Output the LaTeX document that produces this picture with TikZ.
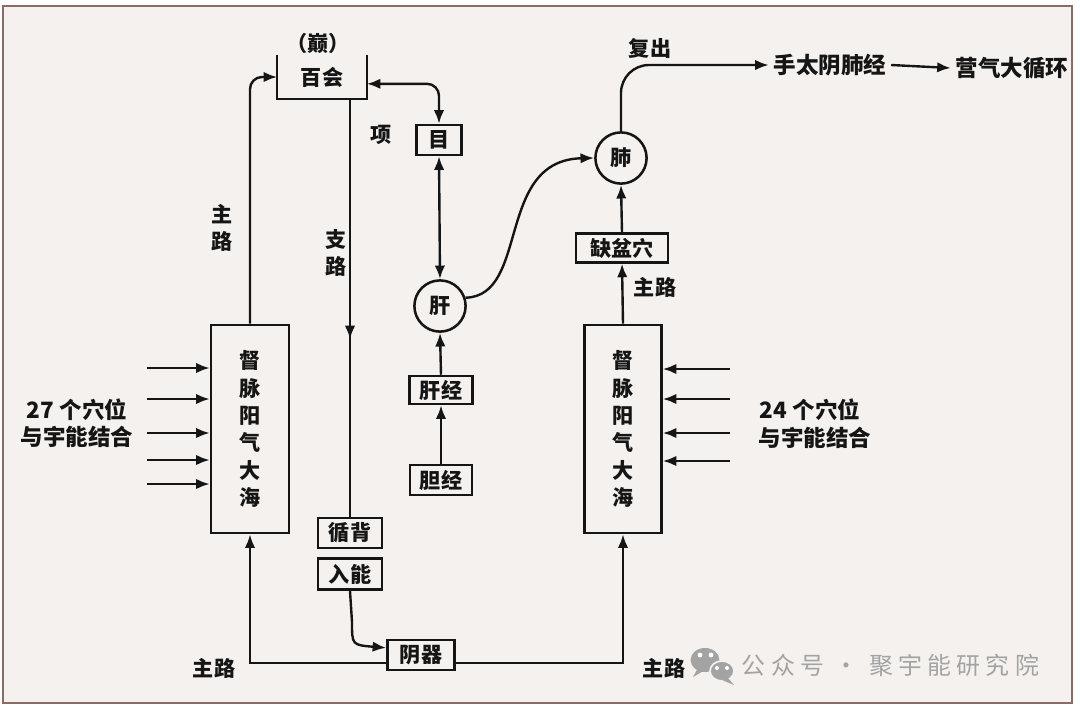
\documentclass[tikz,border=0pt]{standalone}
\usepackage{fontspec}
\setmainfont{Noto Sans CJK SC}
\newfontfamily\wmfont[LetterSpace=22]{Noto Sans CJK SC}
\usetikzlibrary{arrows.meta,decorations.markings}
\definecolor{paper}{HTML}{F4F1EE}
\definecolor{framecol}{HTML}{8C6B62}
\definecolor{ink}{HTML}{151515}
\definecolor{wmgray}{HTML}{A3A3A3}
\begin{document}
\begin{tikzpicture}[x=0.025cm,y=-0.025cm,
  every node/.style={font=\fontsize{15}{18}\selectfont\bfseries, text=ink},
  tip/.style={Latex[length=3.4mm,width=2.6mm]},
  conn/.style={draw=ink, line width=1.7pt, -{Latex[length=3.4mm,width=2.6mm]}},
  dconn/.style={draw=ink, line width=1.7pt, {Latex[length=3.4mm,width=2.6mm]}-{Latex[length=3.4mm,width=2.6mm]}},
  plain/.style={draw=ink, line width=1.7pt},
  sbox/.style={draw=ink, line width=1.8pt, inner sep=0pt, minimum height=0.75cm},
  bigbox/.style={draw=ink, line width=1.8pt, inner sep=0pt, minimum width=1.95cm, minimum height=5.2cm, align=center, font=\fontsize{15}{19.4}\selectfont\bfseries},
  organ/.style={draw=ink, line width=1.8pt, circle, inner sep=0pt, minimum size=1.28cm},
  lbl/.style={font=\fontsize{15}{18}\selectfont\bfseries},
  vlbl/.style={align=center, font=\fontsize{15}{19}\selectfont\bfseries},
  side/.style={font=\fontsize{16}{19}\selectfont\bfseries},
  midarrow/.style={postaction={decorate}, decoration={markings, mark=at position #1 with {\arrow{Latex[length=3.4mm,width=2.6mm]}}}}
]
\useasboundingbox (0,0) rectangle (1080,712);
\fill[white] (0,0) rectangle (1080,712);
\draw[framecol, line width=1.5pt, fill=paper] (3,6) rectangle (1072,703);

% --- top: Baihui
\node[minimum width=2.225cm, minimum height=1.1cm, inner sep=0pt] (B) at (322,77) {百会};
\draw[plain] (B.north west) -- (B.south west) -- (B.south east) -- (B.north east);
\node[lbl] (dian) at (318,43) {（巅）};

% --- main boxes
\node[bigbox] (L) at (250,429) {督\\脉\\阳\\气\\大\\海};
\node[bigbox, minimum width=1.925cm] (R) at (623,429) {督\\脉\\阳\\气\\大\\海};

% --- small boxes
\node[sbox, minimum width=1.125cm] (M) at (439,140) {目};
\node[organ] (G) at (440,306) {肝};
\node[sbox, minimum width=1.575cm, minimum height=0.7cm] (GJ) at (441,390) {肝经};
\node[sbox, minimum width=1.55cm] (DJ) at (441,480) {胆经};
\node[organ] (F) at (621,158) {肺};
\node[sbox, minimum width=2.3cm, minimum height=0.72cm] (Q) at (622,248) {缺盆穴};
\node[sbox, minimum width=1.6cm] (XB) at (350,533) {循背};
\node[sbox, minimum width=1.6cm, minimum height=0.78cm] (RD) at (350,574) {入能};
\node[sbox, minimum width=1.675cm] (Y) at (421,655) {阴器};

% --- top right texts
\node[side] (SH) at (830,65) {手太阴肺经};
\node[side] (YQ) at (1012,68) {营气大循环};

% --- labels
\node[vlbl] (zl1) at (222,228) {主\\路};
\node[vlbl] (zl2) at (336,253) {支\\路};
\node[lbl] (xiang) at (381,135) {项};
\node[lbl] (fuchu) at (650,48) {复出};
\node[lbl] (zl3) at (655,287) {主路};
\node[lbl] (zl4) at (214,668) {主路};
\node[lbl] (zl5) at (664,668) {主路};
\node[side] (t27a) at (77,410) {27 个穴位};
\node[side] (t27b) at (77,437) {与宇能结合};
\node[side] (t24a) at (810,410) {24 个穴位};
\node[side] (t24b) at (815,438) {与宇能结合};

% --- connectors
\draw[conn, rounded corners=0.3cm] (L.north) |- (B.west);
\draw[plain, midarrow=0.575] (XB.north |- B.south) -- (XB.north);
\draw[dconn, rounded corners=0.3cm] ([yshift=-0.17cm]B.east) -| (M.north);
\draw[dconn] (M.south) -- (G.north);
\draw[conn] (GJ.north) -- (G.south);
\draw[conn] (DJ.north) -- (GJ.south);
\draw[conn] (G.18) .. controls (530,296) and (495,160) .. (F.west);
\draw[conn] (Q.north) -- (F.south);
\draw[conn] (R.north) -- (Q.south);
\draw[conn, rounded corners=0.7cm] (F.north) |- (SH.west);
\draw[conn] (SH.east) -- (YQ.west);
\draw[conn] (RD.south) -- (352,622) .. controls (352,645) .. ([yshift=0.18cm]Y.west);
\draw[conn] ([yshift=-0.2cm]Y.west) -| (L.south);
\draw[conn] ([yshift=-0.2cm]Y.east) -| (R.south);

\foreach \yy [count=\i] in {368,399,433,460,484} {
  \coordinate (la\i) at (147,\yy);
  \draw[conn] (la\i) -- (la\i -| L.west);
}
\foreach \yy [count=\i] in {369,399,433,461} {
  \coordinate (ra\i) at (730,\yy);
  \draw[conn] (ra\i) -- (ra\i -| R.east);
}

% --- watermark
\fill[wmgray] (705,660) ellipse [x radius=0.36cm, y radius=0.3cm];
\fill[wmgray] (698,668) -- (693,677) -- (705,670) -- cycle;
\draw[paper, line width=1.2pt, fill=wmgray] (722,671) ellipse [x radius=0.3cm, y radius=0.25cm];
\fill[wmgray] (728,678) -- (734,685) -- (722,680) -- cycle;
\fill[white] (700,655) circle [radius=0.06cm];
\fill[white] (711,655) circle [radius=0.06cm];
\fill[white] (717,668) circle [radius=0.05cm];
\fill[white] (727,668) circle [radius=0.05cm];
\node[font=\wmfont\fontsize{17}{20}\selectfont, text=wmgray, anchor=west] (wm) at (737,665) {公众号 · 聚宇能研究院};
\end{tikzpicture}
\end{document}
